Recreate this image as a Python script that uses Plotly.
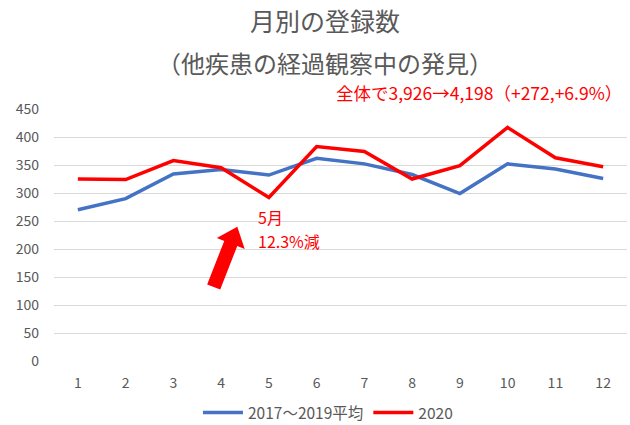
import plotly.graph_objects as go
import math

months = [1, 2, 3, 4, 5, 6, 7, 8, 9, 10, 11, 12]
avg_2017_2019 = [270, 290, 334, 342, 332, 362, 352, 333, 299, 352, 343, 326]
y2020 = [325, 324, 358, 345, 292, 383, 374, 325, 349, 417, 363, 347]
series_names = ["2017～2019平均", "2020"]
y_ticks = [0, 50, 100, 150, 200, 250, 300, 350, 400, 450]

W, H = 630, 425
L, R, T, B = 54, 3, 109, 64
FONT = "Noto Sans CJK JP, Noto Sans, sans-serif"
GRAY = "#595959"

fig = go.Figure()
fig.add_trace(go.Scatter(x=months, y=avg_2017_2019, mode="lines", name=series_names[0],
                         line=dict(color="#4472C4", width=3.5)))
fig.add_trace(go.Scatter(x=months, y=y2020, mode="lines", name=series_names[1],
                         line=dict(color="#FF0000", width=3.5)))

pw, ph = W - L - R, H - T - B
def px(x, y):
    return ((x - L) / pw, (H - B - y) / ph)

# block arrow
tail = (213.7, 287.0)
tip = (237.3, 226.7)
dx, dy = tip[0] - tail[0], tip[1] - tail[1]
ln = math.hypot(dx, dy)
ux, uy = dx / ln, dy / ln
nx, ny = -uy, ux
hl, sw, hw = 18, 7, 15
bx, by = tip[0] - hl * ux, tip[1] - hl * uy
pts = [
    (tail[0] - sw * nx, tail[1] - sw * ny),
    (bx - sw * nx, by - sw * ny),
    (bx - hw * nx, by - hw * ny),
    tip,
    (bx + hw * nx, by + hw * ny),
    (bx + sw * nx, by + sw * ny),
    (tail[0] + sw * nx, tail[1] + sw * ny),
]
pp = [px(*p) for p in pts]
path = "M " + " L ".join(f"{a:.4f},{b:.4f}" for a, b in pp) + " Z"
fig.add_shape(type="path", path=path, xref="paper", yref="paper",
              fillcolor="#FF0000", line=dict(width=0))

def ann(text, x, y, size, color, xanchor="center", align="center"):
    ax, ay = px(x, y)
    fig.add_annotation(text=text, x=ax, y=ay, xref="paper", yref="paper",
                       xanchor=xanchor, yanchor="middle", showarrow=False, align=align,
                       font=dict(family=FONT, size=size, color=color))

ann("月別の登録数", 325, 20, 25, GRAY)
ann("（他疾患の経過観察中の発見）", 325, 63, 24, GRAY)
ann("全体で3,926→4,198（+272,+6.9%）", 624, 92, 17.5, "#FF0000", xanchor="right")
ann("5月", 256, 217, 16, "#FF0000", xanchor="left")
ann("12.3%減", 256, 241, 16, "#FF0000", xanchor="left")

lx, ly = px(328, 413)
fig.update_layout(
    width=W, height=H,
    margin=dict(l=L, r=R, t=T, b=B, autoexpand=False),
    paper_bgcolor="white", plot_bgcolor="white",
    font=dict(family=FONT, size=14, color=GRAY),
    showlegend=True,
    legend=dict(orientation="h", x=lx, y=ly, xanchor="center", yanchor="middle",
                font=dict(size=15.5, color=GRAY), itemwidth=40),
    xaxis=dict(range=[0.5, 12.5], tickvals=months, ticktext=[str(m) for m in months],
               showgrid=False, zeroline=False, showline=False, ticks="", automargin=False,
               ticklabelstandoff=12, fixedrange=True),
    yaxis=dict(range=[0, 450], tickvals=y_ticks, showgrid=True, gridcolor="#D9D9D9",
               gridwidth=1, zeroline=False, showline=False, ticks="", automargin=False,
               ticklabelstandoff=14, fixedrange=True),
)
fig.write_html("out.html", config={"displayModeBar": False},
               post_script="document.body.style.margin='0';document.body.style.overflow='hidden';")
